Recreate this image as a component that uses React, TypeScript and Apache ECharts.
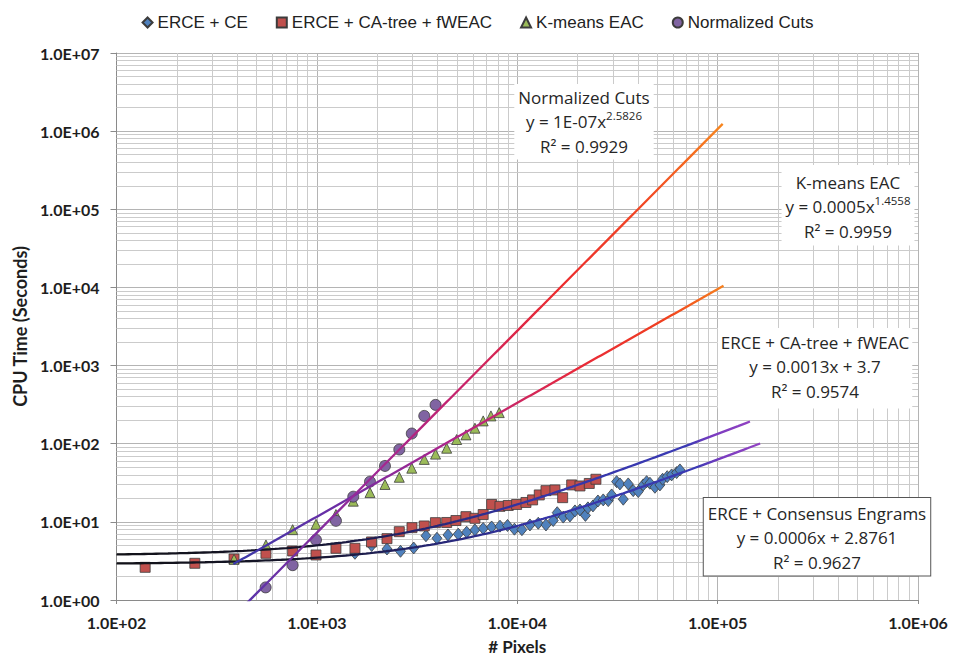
import React, { useEffect, useRef } from "react";
import * as echarts from "echarts";

// Image size (# pixels) against CPU time (seconds) for each clustering method
const ceX = [1549, 1877, 2238, 2614, 3041, 3503, 3974, 4511, 5077, 5592, 6150, 6760, 7450, 8200, 8940, 9680, 10550, 11570, 12730, 13910, 15120, 15830, 16960, 18320, 19410, 20560, 21890, 22530, 23870, 25270, 26860, 28450, 29590, 31330, 32540, 33810, 35800, 37920, 40160, 42530, 44230, 45940, 48650, 51530, 53150, 56040, 58950, 62440, 64850];
const ceY = [3.96, 4.99, 4.5, 4.2, 4.63, 6.64, 6.17, 6.8, 6.96, 7.38, 7.88, 8.23, 8.6, 8.81, 8.99, 8.06, 7.95, 9.13, 9.6, 9.13, 10.4, 13.1, 11.5, 11.9, 13.8, 14.2, 12.1, 15.1, 16.0, 18.5, 19.1, 18.7, 22.1, 32.7, 30.6, 19.5, 30.6, 25.1, 24.4, 29.7, 32.7, 31.2, 27.7, 29.7, 35.1, 37.9, 39.9, 42.7, 46.2];

const caX = [139, 246, 386, 557, 757, 990, 1245, 1549, 1873, 2238, 2578, 2983, 3435, 3906, 4444, 4943, 5546, 6150, 6760, 7450, 8200, 9020, 9930, 11050, 11930, 12880, 13910, 15420, 16850, 18690, 20560, 22880, 24700];
const caY = [2.62, 2.95, 3.35, 3.96, 4.24, 3.77, 4.59, 4.59, 5.53, 6.1, 7.49, 8.43, 8.86, 9.77, 9.82, 10.4, 11.66, 11.1, 12.4, 16.7, 15.8, 16.2, 16.7, 17.7, 19.1, 22.1, 25.1, 25.6, 20.4, 29.7, 28.8, 31.0, 35.1];

const kmX = [386, 557, 757, 990, 1245, 1519, 1841, 2187, 2578, 2976, 3435, 3911, 4444, 4984, 5546, 6150, 6760, 7390, 8130];
const kmY = [3.32, 5.06, 7.95, 9.31, 12.4, 18.4, 23.7, 30.1, 37.2, 48.6, 63.0, 73.6, 87.6, 113.2, 129.7, 158.0, 195.9, 227, 250];

const ncX = [555, 757, 990, 1245, 1519, 1841, 2187, 2578, 2976, 3435, 3911];
const ncY = [1.45, 2.79, 5.87, 10.3, 21.0, 32.7, 52.0, 84.3, 135, 227, 314];

const seriesNames = ["ERCE + CE", "ERCE + CA-tree + fWEAC", "K-means EAC", "Normalized Cuts"];

// Fitted trend lines (Excel shows the power coefficient of Normalized Cuts rounded to 1E-07)
const ceFit = { slope: 0.0006, intercept: 2.8761, from: 100, to: 163000 };
const caFit = { slope: 0.0013, intercept: 3.7, from: 100, to: 145000 };
const kmFit = { coef: 0.0005, power: 1.4558, from: 383, to: 107000 };
const ncFit = { coef: 1.3e-7, power: 2.5826, from: 450, to: 106000 };

const xTicks = [1e2, 1e3, 1e4, 1e5, 1e6];
const xTickLabels = ["1.0E+02", "1.0E+03", "1.0E+04", "1.0E+05", "1.0E+06"];
const yTicks = [1e0, 1e1, 1e2, 1e3, 1e4, 1e5, 1e6, 1e7];
const yTickLabels = ["1.0E+00", "1.0E+01", "1.0E+02", "1.0E+03", "1.0E+04", "1.0E+05", "1.0E+06", "1.0E+07"];

const AXIS_FONT = "Lato, 'Noto Sans', sans-serif";
const NOTE_FONT = "'Open Sans', 'Noto Sans', sans-serif";
const LEGEND_FONT = "'Liberation Sans Narrow', 'Liberation Sans', sans-serif";

const zip = (xs: number[], ys: number[]) => xs.map((x, i) => [x, ys[i]]);

// Sample a fitted curve at log-spaced x positions
function curve(f: (x: number) => number, x0: number, x1: number, n = 160) {
  const l0 = Math.log10(x0);
  const l1 = Math.log10(x1);
  const pts: number[][] = [];
  for (let i = 0; i <= n; i++) {
    const x = Math.pow(10, l0 + ((l1 - l0) * i) / n);
    pts.push([x, f(x)]);
  }
  return pts;
}

// Minor (2..9) grid values between decade ticks
function minorValues(ticks: number[]) {
  const out: number[] = [];
  for (let i = 0; i < ticks.length - 1; i++) {
    for (let m = 2; m <= 9; m++) out.push(ticks[i] * m);
  }
  return out;
}

function tickLabel(ticks: number[], labels: string[]) {
  return (v: number) => {
    const idx = ticks.findIndex((t) => Math.abs(Math.log10(t) - Math.log10(v)) < 1e-6);
    return idx >= 0 ? labels[idx] : "";
  };
}

const grad = (stops: [number, string][]) => ({
  type: "linear",
  x: 0,
  y: 0,
  x2: 1,
  y2: 0,
  colorStops: stops.map(([offset, color]) => ({ offset, color })),
});

const linearGrad = grad([
  [0, "#121218"],
  [0.3, "#16162c"],
  [0.47, "#24246c"],
  [0.65, "#3434a6"],
  [0.9, "#3a3ab4"],
  [0.94, "#7a3cc0"],
  [1, "#9142c2"],
]);

const ncGrad = grad([
  [0, "#5a34aa"],
  [0.25, "#9c2898"],
  [0.45, "#c8226a"],
  [0.65, "#ec2a2e"],
  [0.85, "#f24a22"],
  [1, "#f7861e"],
]);

const kmGrad = grad([
  [0, "#3838a8"],
  [0.2, "#6a2ea6"],
  [0.45, "#b0248a"],
  [0.7, "#e8283a"],
  [0.88, "#f0401f"],
  [1, "#f6801e"],
]);

function note(
  x: number,
  y: number,
  lines: string,
  padding: number[],
  bordered = false
) {
  return {
    type: "text",
    x,
    y,
    z: 100,
    style: {
      text: lines,
      align: "center",
      verticalAlign: "top",
      textAlign: "center",
      textVerticalAlign: "top",
      backgroundColor: "#ffffff",
      padding,
      borderColor: bordered ? "#555555" : undefined,
      borderWidth: bordered ? 1 : 0,
      rich: {
        t: { fontSize: 17, lineHeight: 24.5, fontFamily: NOTE_FONT, fill: "#262626", color: "#262626" },
        s: {
          fontSize: 11.5,
          lineHeight: 14,
          verticalAlign: "top",
          fontFamily: NOTE_FONT,
          fill: "#262626",
          color: "#262626",
        },
      },
    },
  };
}

export default function App() {
  const ref = useRef<HTMLDivElement>(null);

  useEffect(() => {
    if (!ref.current) return;
    const chart = echarts.init(ref.current, undefined, { renderer: "svg" });

    const xMinor = minorValues(xTicks);
    const yMinor = minorValues(yTicks);

    const scatterBase = {
      type: "scatter",
      z: 3,
      itemStyle: { borderColor: "#3c3c3c", borderWidth: 0.8, opacity: 1 },
    };

    const lineBase = {
      type: "line",
      showSymbol: false,
      symbol: "none",
      clip: true,
      z: 4,
      silent: true,
      smooth: false,
    };

    chart.setOption({
      animation: false,
      backgroundColor: "#ffffff",
      grid: { left: 116.5, right: 37, top: 53, bottom: 62, containLabel: false },
      legend: {
        data: seriesNames,
        top: 9,
        left: "center",
        itemWidth: 10,
        itemHeight: 10,
        itemGap: 28,
        textStyle: { fontSize: 17, fontFamily: LEGEND_FONT, color: "#222" },
      },
      xAxis: {
        type: "log",
        logBase: 10,
        min: xTicks[0],
        max: xTicks[xTicks.length - 1],
        splitNumber: 10,
        name: "# Pixels",
        nameLocation: "middle",
        nameGap: 38,
        nameTextStyle: { fontSize: 17, fontWeight: "bold", fontFamily: AXIS_FONT, color: "#1e1e1e" },
        axisLine: { lineStyle: { color: "#8a8a8a", width: 1 } },
        axisTick: { show: true, length: 4, lineStyle: { color: "#8a8a8a" } },
        axisLabel: {
          formatter: tickLabel(xTicks, xTickLabels),
          fontSize: 16,
          fontWeight: "bold",
          fontFamily: AXIS_FONT,
          color: "#1e1e1e",
          margin: 14,
        },
        splitLine: { show: true, lineStyle: { color: "#b4b4b4", width: 1 } },
      },
      yAxis: {
        type: "log",
        logBase: 10,
        min: yTicks[0],
        max: yTicks[yTicks.length - 1],
        splitNumber: 10,
        name: "CPU Time (Seconds)",
        nameLocation: "middle",
        nameGap: 86,
        nameTextStyle: { fontSize: 18, fontWeight: "bold", fontFamily: AXIS_FONT, color: "#1e1e1e" },
        axisLine: { show: true, lineStyle: { color: "#8a8a8a", width: 1 } },
        axisTick: { show: true, length: 6, lineStyle: { color: "#8a8a8a" } },
        axisLabel: {
          formatter: tickLabel(yTicks, yTickLabels),
          fontSize: 16,
          fontWeight: "bold",
          fontFamily: AXIS_FONT,
          color: "#1e1e1e",
          margin: 17,
        },
        splitLine: { show: true, lineStyle: { color: "#b4b4b4", width: 1 } },
      },
      series: [
        {
          type: "line",
          name: "minor-grid",
          data: [],
          silent: true,
          z: 1,
          markLine: {
            silent: true,
            z: 1,
            symbol: ["none", "none"],
            label: { show: false },
            emphasis: { disabled: true },
            animation: false,
            lineStyle: { color: "#cbcbcb", width: 1, type: "solid" },
            data: [
              ...xMinor.map((v) => ({ xAxis: v })),
              ...yMinor.map((v) => ({ yAxis: v })),
            ],
          },
        },
        {
          ...scatterBase,
          name: seriesNames[0],
          symbol: "diamond",
          symbolSize: [10, 12],
          itemStyle: { ...scatterBase.itemStyle, color: "#4f81bd" },
          data: zip(ceX, ceY),
        },
        {
          ...scatterBase,
          name: seriesNames[1],
          symbol: "rect",
          symbolSize: 10,
          itemStyle: { ...scatterBase.itemStyle, color: "#c0504d" },
          data: zip(caX, caY),
        },
        {
          ...scatterBase,
          name: seriesNames[2],
          symbol: "triangle",
          symbolSize: 10,
          itemStyle: { ...scatterBase.itemStyle, color: "#9bbb59" },
          data: zip(kmX, kmY),
        },
        {
          ...scatterBase,
          name: seriesNames[3],
          symbol: "circle",
          symbolSize: 11,
          itemStyle: { ...scatterBase.itemStyle, color: "#8064a2" },
          data: zip(ncX, ncY),
        },
        {
          ...lineBase,
          name: "ce-trend",
          lineStyle: { width: 2.3, color: linearGrad },
          data: curve((x) => ceFit.slope * x + ceFit.intercept, ceFit.from, ceFit.to),
        },
        {
          ...lineBase,
          name: "ca-trend",
          lineStyle: { width: 2.3, color: linearGrad },
          data: curve((x) => caFit.slope * x + caFit.intercept, caFit.from, caFit.to),
        },
        {
          ...lineBase,
          name: "km-trend",
          lineStyle: { width: 2.3, color: kmGrad },
          data: curve((x) => kmFit.coef * Math.pow(x, kmFit.power), kmFit.from, kmFit.to),
        },
        {
          ...lineBase,
          name: "nc-trend",
          lineStyle: { width: 2.3, color: ncGrad },
          data: curve((x) => ncFit.coef * Math.pow(x, ncFit.power), ncFit.from, ncFit.to),
        },
      ],
      graphic: [
        note(584, 84, "{t|Normalized Cuts}\n{t|y = 1E-07x}{s|2.5826}\n{t|R² = 0.9929}", [1, 4, 1, 4]),
        note(848, 165, "{t|K-means EAC}\n{t|y = 0.0005x}{s|1.4558}\n{t|R² = 0.9959}", [5, 4, 2, 4]),
        note(815, 328, "{t|ERCE + CA-tree + fWEAC}\n{t|y = 0.0013x + 3.7}\n{t|R² = 0.9574}", [2, 3, 5, 3]),
        note(817, 498, "{t|ERCE + Consensus Engrams}\n{t|y = 0.0006x + 2.8761}\n{t|R² = 0.9627}", [3, 4, 1, 4], true),
      ],
    });

    return () => chart.dispose();
  }, []);

  return (
    <div
      ref={ref}
      style={{ position: "absolute", left: 0, top: 0, width: 955, height: 662, background: "#fff" }}
    />
  );
}
